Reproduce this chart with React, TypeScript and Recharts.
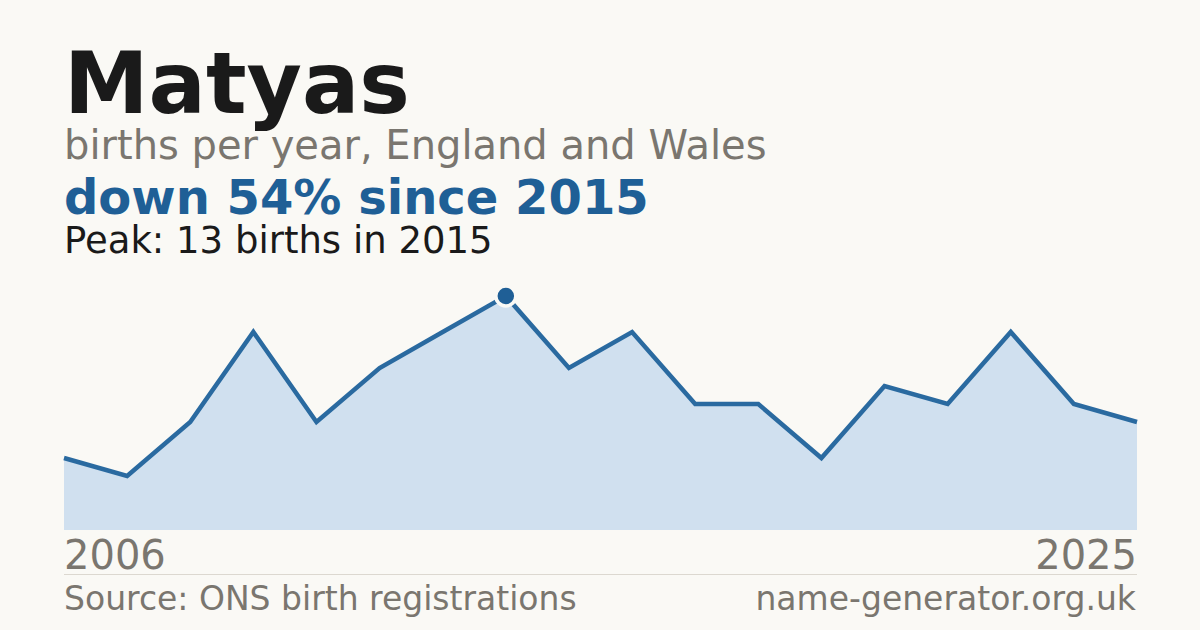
import { AreaChart, Area, XAxis, YAxis } from "recharts";

const years = ["2006", "2007", "2008", "2009", "2011", "2012", "2014", "2015", "2016", "2017", "2018", "2019", "2020", "2021", "2022", "2023", "2024", "2025"];
const births = [4, 3, 6, 11, 6, 9, 11, 13, 9, 11, 7, 7, 4, 8, 7, 11, 7, 6];
const edgeTicks = [years[0], years[years.length - 1]];

const data = years.map((year, i) => ({ year, births: births[i] }));
const peak = Math.max(...births);
const peakIdx = births.indexOf(peak);

const font = "'DejaVu Sans', sans-serif";
const grey = "#7a766f";
const blue = "#1f5f96";

const EdgeTick = (props: any) => {
  const { x, y, payload } = props;
  const first = payload.value === edgeTicks[0];
  return (
    <text x={x} y={y + 31} textAnchor={first ? "start" : "end"} fontSize={40} fill={grey} fontFamily={font}>
      {payload.value}
    </text>
  );
};

const PeakDot = (props: any) => {
  const { cx, cy, index } = props;
  if (index !== peakIdx) return <g key={index} />;
  return <circle key={index} cx={cx} cy={cy} r={10} fill={blue} stroke="#faf9f5" strokeWidth={3.5} />;
};

export default function App() {
  return (
    <div style={{ position: "absolute", left: 0, top: 0, width: 1200, height: 630, background: "#faf9f5", overflow: "hidden" }}>
      <svg width={1200} height={300} style={{ position: "absolute", left: 0, top: 0 }} fontFamily={font}>
        <text x={64} y={113} fontSize={85} fontWeight="bold" fill="#1a1a1a">Matyas</text>
        <text x={64} y={159} fontSize={40} fill={grey}>births per year, England and Wales</text>
        <text x={64} y={214} fontSize={48} fontWeight="bold" fill={blue}>down 54% since 2015</text>
        <text x={64} y={253} fontSize={37} fill="#1a1a1a">Peak: 13 births in 2015</text>
      </svg>
      <div style={{ position: "absolute", left: 0, top: 0 }}>
        <AreaChart width={1200} height={630} data={data} margin={{ top: 296, right: 63, bottom: 56, left: 64 }}>
          <XAxis dataKey="year" ticks={edgeTicks} interval={0} axisLine={false} tickLine={false} height={44} tick={<EdgeTick />} />
          <YAxis hide domain={[0, peak]} />
          <Area
            type="linear"
            dataKey="births"
            stroke="#2a6aa0"
            strokeWidth={4.5}
            fill="#d0e0ef"
            fillOpacity={1}
            dot={<PeakDot />}
            activeDot={false}
            isAnimationActive={false}
          />
        </AreaChart>
      </div>
      <div style={{ position: "absolute", left: 64, top: 574, width: 1073, height: 1, background: "#dcd8d0" }} />
      <svg width={1200} height={60} style={{ position: "absolute", left: 0, top: 570 }} fontFamily={font}>
        <text x={64} y={40} fontSize={33} fill={grey}>Source: ONS birth registrations</text>
        <text x={1136} y={40} fontSize={33} fill={grey} textAnchor="end">name-generator.org.uk</text>
      </svg>
    </div>
  );
}
